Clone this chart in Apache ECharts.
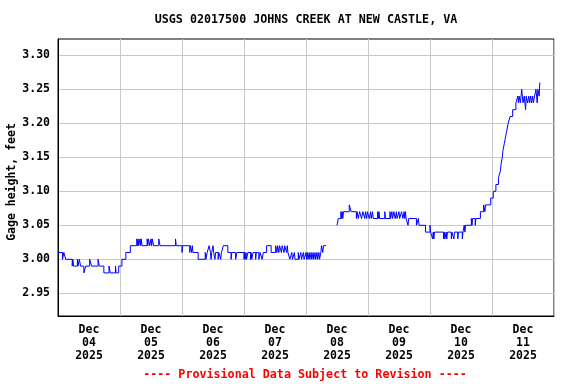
<!DOCTYPE html>
<html><head><meta charset="utf-8">
<script src="https://cdn.jsdelivr.net/npm/echarts@6/dist/echarts.min.js"></script>
<style>html,body{margin:0;padding:0;background:#fff}#c{width:576px;height:384px}</style>
</head><body><div id="c"></div>
<script>
const titleText = 'USGS 02017500 JOHNS CREEK AT NEW CASTLE, VA';
const yAxisTitle = 'Gage height, feet';
const footerText = '---- Provisional Data Subject to Revision ----';
const dayLabels = ['Dec\n04\n2025','Dec\n05\n2025','Dec\n06\n2025','Dec\n07\n2025','Dec\n08\n2025','Dec\n09\n2025','Dec\n10\n2025','Dec\n11\n2025'];
const yTicks = [2.95, 3.00, 3.05, 3.10, 3.15, 3.20, 3.25, 3.30];

// [hour of day, gage height ft]; null marks missing data
const dec04 = [[0,3.01],[1.75,3.00],[2.25,3.01],[3,3.00],[5.5,2.99],[5.75,3.00],[6,2.99],[7.5,3.00],[7.75,2.99],[8.25,3.00],[8.75,2.99],[10,2.98],[10.75,2.99],[12.25,3.00],[13,2.99],[15.5,3.00],[16,2.99],[17.75,2.98],[19.75,2.99],[20.25,2.98],[22.25,2.99],[22.5,2.98],[23.5,2.99]];
const dec05 = [[0.75,3.00],[2.25,3.01],[4,3.02],[6.5,3.03],[6.75,3.02],[7,3.03],[7.25,3.02],[7.75,3.03],[8,3.02],[8.25,3.03],[8.5,3.02],[10.5,3.03],[10.75,3.02],[11,3.03],[11.5,3.02],[12,3.03],[12.25,3.02],[12.5,3.03],[13,3.02],[15,3.03],[15.5,3.02],[21.5,3.03],[21.75,3.02]];
const dec06 = [[0,3.01],[0.25,3.02],[3,3.01],[3.25,3.02],[3.75,3.01],[4,3.02],[4.25,3.01],[6.25,3.00],[9,3.01],[9.25,3.00],[9.75,3.01],[10.5,3.02],[11,3.01],[11.25,3.00],[11.5,3.01],[12,3.02],[12.25,3.01],[12.75,3.00],[13,3.01],[14,3.00],[14.25,3.01],[15,3.00],[15.25,3.01],[16,3.02],[17.75,3.01],[19,3.00],[19.25,3.01],[20.75,3.00],[21.25,3.01]];
const dec07 = [[0,3.00],[0.25,3.01],[0.5,3.00],[0.75,3.01],[1,3.00],[1.5,3.01],[2.5,3.00],[2.75,3.01],[3,3.00],[3.5,3.01],[4.5,3.00],[4.75,3.01],[5.75,3.00],[6.25,3.01],[7,3.00],[7.5,3.01],[8.75,3.02],[10.5,3.01],[12.25,3.02],[12.75,3.01],[13,3.02],[13.5,3.01],[13.75,3.02],[14.5,3.01],[14.75,3.02],[15.5,3.01],[15.75,3.02],[16.5,3.01],[16.75,3.02],[17,3.01],[17.75,3.00],[18.5,3.01],[18.75,3.00],[19.5,3.01],[19.75,3.00],[21,3.01],[21.25,3.00],[22,3.01],[22.25,3.00],[23,3.01],[23.25,3.00]];
const dec08 = [[0,3.01],[0.25,3.00],[0.5,3.01],[0.75,3.00],[1.25,3.01],[1.5,3.00],[2,3.01],[2.25,3.00],[2.75,3.01],[3,3.00],[3.5,3.01],[3.75,3.00],[4.25,3.01],[4.5,3.00],[5,3.01],[5.25,3.00],[5.75,3.01],[6,3.02],[6.5,3.01],[6.75,3.02],[7.75,3.02],[8,null],[12,3.05],[12.5,3.06],[13.5,3.07],[13.75,3.06],[14,3.07],[14.25,3.06],[14.5,3.07],[16.75,3.08],[17.5,3.07],[19.5,3.06],[19.75,3.07],[20.25,3.06],[20.75,3.07],[21.5,3.06],[22,3.07],[22.75,3.06],[23,3.07],[23.5,3.06],[23.75,3.07]];
const dec09 = [[0.5,3.06],[1,3.07],[1.25,3.06],[1.75,3.07],[2,3.06],[3.75,3.07],[4,3.06],[4.25,3.07],[4.5,3.06],[6.5,3.07],[6.75,3.06],[8.5,3.07],[8.75,3.06],[9.25,3.07],[9.5,3.06],[10,3.07],[10.5,3.06],[11,3.07],[11.25,3.06],[12,3.07],[12.25,3.06],[13,3.07],[13.5,3.06],[14,3.07],[14.25,3.06],[14.5,3.07],[14.75,3.06],[15.5,3.05],[15.75,3.06],[18.75,3.05],[19.5,3.06],[19.75,3.05],[22.25,3.04]];
const dec10 = [[0,3.05],[0.25,3.04],[1,3.03],[1.25,3.04],[1.5,3.03],[1.75,3.04],[5.25,3.03],[5.5,3.04],[5.75,3.03],[6.25,3.04],[6.5,3.03],[6.75,3.04],[8.25,3.03],[8.5,3.04],[9.25,3.03],[9.5,3.04],[10.75,3.03],[11,3.04],[12.5,3.03],[12.75,3.04],[13.25,3.05],[13.5,3.04],[13.75,3.05],[16,3.06],[16.25,3.05],[16.5,3.06],[17.5,3.05],[17.75,3.06],[19.5,3.07],[20.75,3.08],[21.25,3.07],[21.5,3.08],[23.5,3.09]];
const dec11 = [[0.5,3.10],[1.5,3.11],[2.5,3.12],[3.25,3.13],[3.5,3.14],[4,3.15],[4.25,3.16],[4.75,3.17],[5.25,3.18],[5.75,3.19],[6.25,3.20],[7,3.21],[8,3.22],[9.25,3.23],[10,3.24],[10.25,3.23],[10.5,3.24],[11,3.23],[11.5,3.25],[11.75,3.24],[12,3.23],[12.5,3.24],[13,3.22],[13.25,3.24],[13.75,3.23],[14.25,3.24],[14.5,3.23],[15,3.24],[15.25,3.23],[15.75,3.24],[16,3.23],[16.5,3.24],[17,3.25],[17.25,3.24],[17.5,3.23],[17.75,3.25],[18.25,3.24],[18.5,3.26],[18.75,3.26]];

const days = [dec04, dec05, dec06, dec07, dec08, dec09, dec10, dec11];
const seriesData = [];
days.forEach((d, i) => d.forEach(([h, v]) => seriesData.push([i * 24 + h, v === null ? '-' : v])));

const FONT = 'DejaVu Sans Mono';
const chart = echarts.init(document.getElementById('c'), null, {renderer: 'canvas'});
chart.setOption({
  animation: false,
  backgroundColor: '#fff',
  grid: {left: 58, top: 39, width: 496, height: 277, show: true, borderColor: '#000', borderWidth: 1, containLabel: false, outerBoundsMode: 'none'},
  xAxis: {
    type: 'value', min: 0, max: 192, interval: 24,
    axisLine: {show: true, lineStyle: {color: '#000', width: 1}},
    axisTick: {show: false},
    splitLine: {show: true, lineStyle: {color: '#c8c8c8', width: 1}},
    axisLabel: {
      customValues: [12, 36, 60, 84, 108, 132, 156, 180],
      formatter: v => dayLabels[Math.round((v - 12) / 24)],
      fontFamily: FONT, fontWeight: 'bold', fontSize: 11.5, color: '#000',
      lineHeight: 13, margin: 8
    }
  },
  yAxis: {
    type: 'value', min: 2.9166, max: 3.324,
    axisLine: {show: true, lineStyle: {color: '#000', width: 1}},
    axisTick: {show: false, customValues: yTicks},
    splitLine: {show: true, lineStyle: {color: '#c8c8c8', width: 1}},
    axisLabel: {
      customValues: yTicks,
      formatter: v => v.toFixed(2),
      fontFamily: FONT, fontWeight: 'bold', fontSize: 11.5, color: '#000', margin: 8
    }
  },
  graphic: [
    {type: 'text', x: 306, y: 20, style: {text: titleText, font: 'bold 11.7px "DejaVu Sans Mono"', fill: '#000', textAlign: 'center', textVerticalAlign: 'middle'}},
    {type: 'text', x: 12, y: 182, rotation: Math.PI / 2, style: {text: yAxisTitle, font: 'bold 11.5px "DejaVu Sans Mono"', fill: '#000', textAlign: 'center', textVerticalAlign: 'middle'}},
    {type: 'text', x: 305, y: 375, style: {text: footerText, font: 'bold 11.7px "DejaVu Sans Mono"', fill: '#ff0000', textAlign: 'center', textVerticalAlign: 'middle'}}
  ],
  series: [{
    type: 'line', data: seriesData, step: 'end', showSymbol: false, connectNulls: false,
    lineStyle: {color: '#0000ff', width: 1}, itemStyle: {color: '#0000ff'}
  }]
});
</script></body></html>
